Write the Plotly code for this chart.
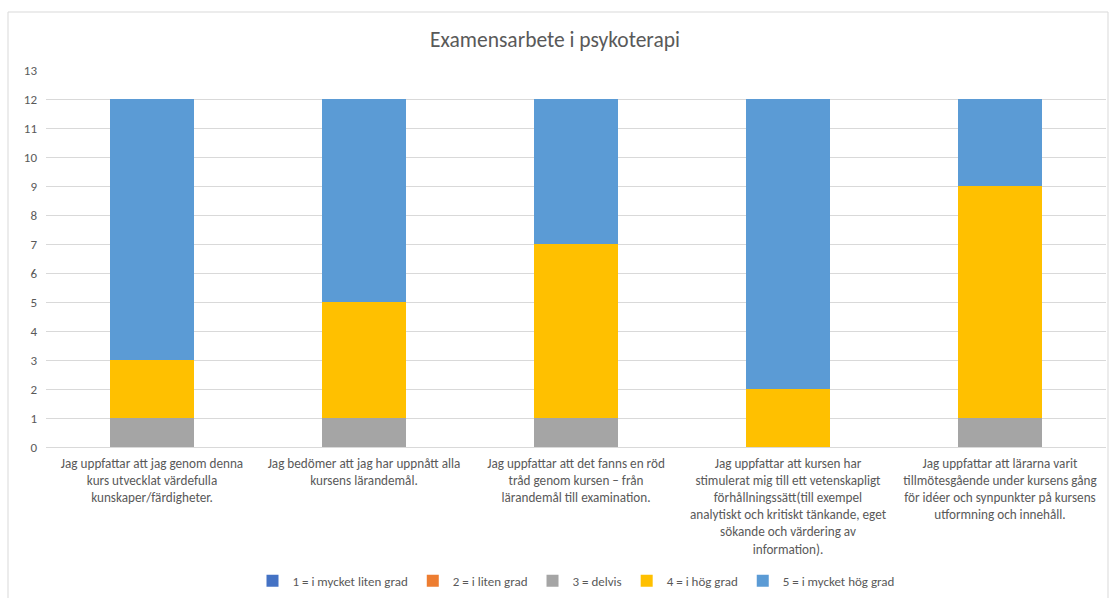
import plotly.graph_objects as go

categories = [
    "Jag uppfattar att jag genom denna<br>kurs utvecklat värdefulla<br>kunskaper/färdigheter.",
    "Jag bedömer att jag har uppnått alla<br>kursens lärandemål.",
    "Jag uppfattar att det fanns en röd<br>tråd genom kursen – från<br>lärandemål till examination.",
    "Jag uppfattar att kursen har<br>stimulerat mig till ett vetenskapligt<br>förhållningssätt(till exempel<br>analytiskt och kritiskt tänkande, eget<br>sökande och värdering av<br>information).",
    "Jag uppfattar att lärarna varit<br>tillmötesgående under kursens gång<br>för idéer och synpunkter på kursens<br>utformning och innehåll.",
]

series_names = [
    "1 = i mycket liten grad",
    "2 = i liten grad",
    "3 = delvis",
    "4 = i hög grad",
    "5 = i mycket hög grad",
]
s1 = [0, 0, 0, 0, 0]
s2 = [0, 0, 0, 0, 0]
s3 = [1, 1, 1, 0, 1]
s4 = [2, 4, 6, 2, 8]
s5 = [9, 7, 5, 10, 3]
series_values = [s1, s2, s3, s4, s5]
colors = ["#4472C4", "#ED7D31", "#A5A5A5", "#FFC000", "#5B9BD5"]
y_ticks = list(range(0, 14))

FONT = "Carlito, Lato, sans-serif"

fig = go.Figure()
for name, vals, col in zip(series_names, series_values, colors):
    fig.add_trace(go.Bar(x=categories, y=vals, name=name, marker_color=col,
                         marker_line_width=0))

fig.update_layout(
    width=1110, height=598,
    barmode="stack", bargap=0.6,
    plot_bgcolor="white", paper_bgcolor="white",
    margin=dict(l=46, r=4, t=70, b=151, autoexpand=False),
    font=dict(family=FONT, color="#595959", size=13.2),
    title=dict(text="Examensarbete i psykoterapi", x=0.5, xanchor="center",
               y=1 - 39 / 598, yanchor="middle",
               font=dict(size=21.5, color="#595959", family=FONT)),
    legend=dict(orientation="h", x=0.5, xanchor="center", y=-0.355, yanchor="middle",
                traceorder="normal", font=dict(size=13, color="#595959"),
                itemwidth=30),
    showlegend=True,
)
fig.update_yaxes(range=[0, 13], tickvals=y_ticks, showgrid=True, gridcolor="#D9D9D9",
                 gridwidth=1, zeroline=False, showline=False, ticks="",
                 tickfont=dict(size=13, color="#595959"), ticklabelstandoff=8)
fig.update_xaxes(showgrid=False, showline=True, linecolor="#D9D9D9", ticks="",
                 tickfont=dict(size=13.2, color="#595959"), tickangle=0,
                 ticklabelstandoff=4)

# chart border
fig.add_shape(type="rect", xref="paper", yref="paper",
              x0=(8 - 46) / 1060, x1=(1108 - 46) / 1060,
              y0=(447 - 620) / 377, y1=(447 - 12) / 377,
              line=dict(color="#D9D9D9", width=1), fillcolor="rgba(0,0,0,0)", layer="below")

fig.write_html("out.html", config={"displayModeBar": False},
               post_script="document.body.style.margin='0';")
